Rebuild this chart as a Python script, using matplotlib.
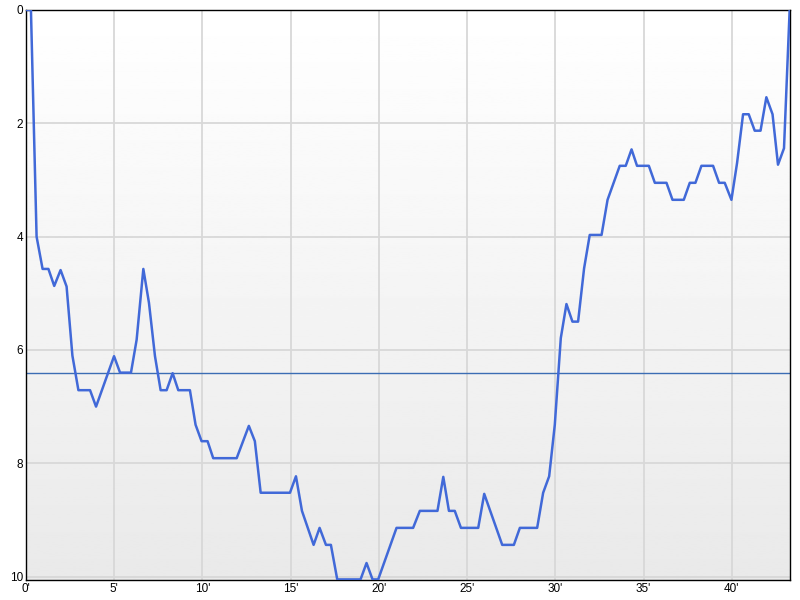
#!/usr/bin/env python3

import numpy as np
import matplotlib
matplotlib.use("Agg")
import matplotlib.pyplot as plt

# game minute -> value (axis inverted, 0 at top)
minutes = [0, 0.28, 0.6, 0.94, 1.27, 1.6, 1.96, 2.3, 2.63, 2.97,
           3.63, 3.97, 4.99, 5.33, 5.95, 6.27, 6.65, 6.97, 7.31, 7.63,
           7.97, 8.31, 8.63, 9.29, 9.61, 9.95, 10.29, 10.61, 11.94, 12.63,
           12.97, 13.3, 14.96, 15.3, 15.64, 16.3, 16.64, 17.0, 17.28, 17.64,
           18.96, 19.3, 19.64, 19.96, 21.0, 21.94, 22.32, 23.32, 23.65, 23.97,
           24.3, 24.65, 25.63, 25.97, 26.99, 27.65, 27.99, 28.97, 29.31, 29.65,
           29.97, 30.31, 30.63, 30.97, 31.29, 31.63, 31.95, 32.62, 32.96, 33.65,
           33.99, 34.32, 34.63, 35.3, 35.64, 36.3, 36.64, 37.28, 37.62, 37.94,
           38.28, 38.94, 39.28, 39.6, 39.98, 40.3, 40.64, 40.96, 41.3, 41.63,
           41.96, 42.31, 42.62, 42.96, 43.28]
values = [0, 0, 4.0, 4.57, 4.57, 4.87, 4.59, 4.88, 6.1, 6.71,
          6.71, 7.0, 6.11, 6.4, 6.4, 5.82, 4.57, 5.17, 6.11, 6.71,
          6.71, 6.41, 6.71, 6.71, 7.32, 7.61, 7.61, 7.91, 7.91, 7.34,
          7.61, 8.52, 8.52, 8.23, 8.84, 9.44, 9.14, 9.44, 9.44, 10.05,
          10.05, 9.76, 10.05, 10.05, 9.14, 9.14, 8.84, 8.84, 8.24, 8.84,
          8.84, 9.14, 9.14, 8.54, 9.44, 9.44, 9.14, 9.14, 8.52, 8.23,
          7.32, 5.79, 5.19, 5.5, 5.5, 4.56, 3.97, 3.97, 3.35, 2.75,
          2.75, 2.46, 2.75, 2.75, 3.05, 3.05, 3.35, 3.35, 3.05, 3.05,
          2.75, 2.75, 3.05, 3.05, 3.35, 2.7, 1.84, 1.84, 2.13, 2.13,
          1.54, 1.84, 2.73, 2.44, 0]
average = 6.4

x_ticks = [0, 5, 10, 15, 20, 25, 30, 35, 40]
x_labels = ["0'", "5'", "10'", "15'", "20'", "25'", "30'", "35'", "40'"]
y_ticks = [0, 2, 4, 6, 8, 10]

plt.rcParams['font.family'] = ['Liberation Sans', 'DejaVu Sans']

fig = plt.figure(figsize=(8, 6), dpi=100)
ax = fig.add_axes([26 / 800, 20 / 600, 764 / 800, 570 / 600])

# vertical gradient background, white at top to light grey at bottom
grad = np.linspace(1.0, 0.915, 256).reshape(-1, 1)
ax.imshow(grad, cmap="gray", vmin=0, vmax=1, aspect="auto",
          extent=[0, 1, 0, 1], transform=ax.transAxes, zorder=0)

ax.set_xlim(0, 43.3)
ax.set_ylim(10.06, 0)

for xt in x_ticks[1:]:
    ax.axvline(xt, color="#d8d8d8", linewidth=1.3, zorder=1)
for yt in y_ticks[1:]:
    ax.axhline(yt, color="#d8d8d8", linewidth=1.3, zorder=1)

ax.axhline(average, color="#3b6db4", linewidth=1.0, zorder=2)
ax.plot(minutes, values, color="#4169d8", linewidth=1.8, zorder=3)

ax.set_xticks(x_ticks)
ax.set_xticklabels(x_labels)
ax.set_yticks(y_ticks)
ax.tick_params(length=0, labelsize=8.5, pad=2, colors="black")

for s in ax.spines.values():
    s.set_color("black")
    s.set_linewidth(1.0)

fig.savefig("out.png", dpi=100)
